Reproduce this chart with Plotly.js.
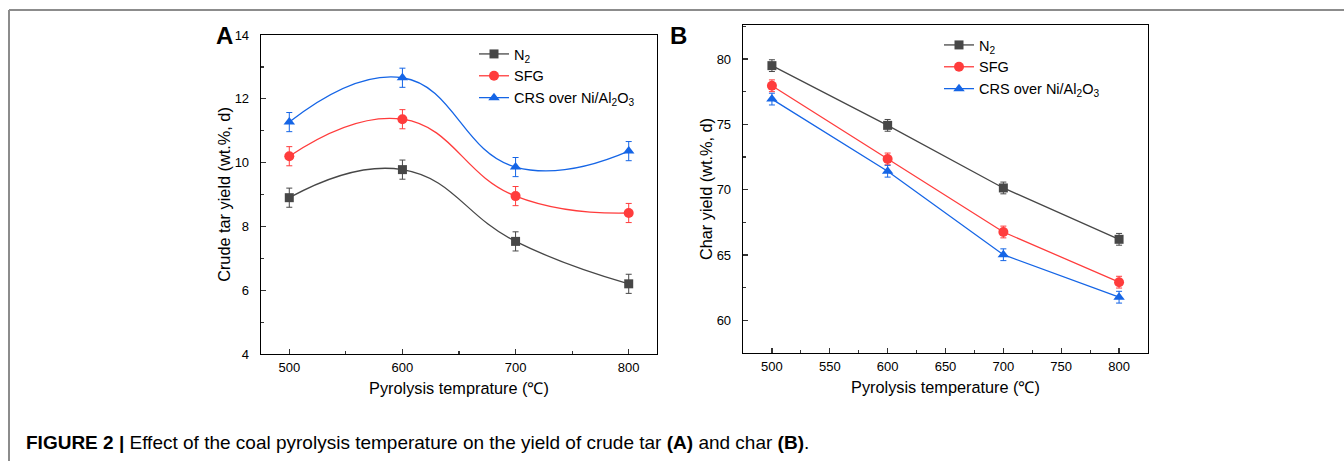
<!DOCTYPE html>
<html>
<head>
<meta charset="utf-8">
<script src="https://cdn.plot.ly/plotly-3.0.1.min.js"></script>
<style>html,body{margin:0;padding:0;background:#fff;}#chart{width:1344px;height:461px;}</style>
</head>
<body>
<div id="chart"></div>
<script>
// Temperatures (°C)
const temps = [500, 600, 700, 800];

// Panel A: crude tar yield (wt.%, d)
const tarN2  = [8.90, 9.78, 7.53, 6.20];
const tarSFG = [10.20, 11.36, 8.95, 8.42];
const tarCRS = [11.27, 12.66, 9.86, 10.36];
const tarErrN2  = [0.30, 0.30, 0.30, 0.30];
const tarErrSFG = [0.30, 0.30, 0.30, 0.30];
const tarErrCRS = [0.30, 0.30, 0.30, 0.30];

// Panel B: char yield (wt.%, d)
const charN2  = [79.49, 74.92, 70.13, 66.20];
const charSFG = [77.95, 72.35, 66.76, 62.92];
const charCRS = [76.93, 71.41, 65.02, 61.77];
const charErrN2  = [0.45, 0.45, 0.45, 0.45];
const charErrSFG = [0.45, 0.45, 0.45, 0.45];
const charErrCRS = [0.45, 0.45, 0.45, 0.45];

const seriesNames = ['N<sub>2</sub>', 'SFG', 'CRS over Ni/Al<sub>2</sub>O<sub>3</sub>'];
const colors = ['#474747', '#ff3c3c', '#1565e6'];
const symbols = ['square', 'circle', 'triangle-up'];
const sizes = [9, 10, 10];

const W = 1344, H = 461;
const px = v => v / W;
const py = v => 1 - v / H;

function mk(x, y, err, i, xa, ya, leg, shape) {
  return {
    x: x, y: y, type: 'scatter', mode: 'lines+markers',
    name: seriesNames[i], xaxis: xa, yaxis: ya, legend: leg,
    line: {color: colors[i], width: 1.3, shape: shape, smoothing: 1.3},
    marker: {color: colors[i], symbol: symbols[i], size: sizes[i]},
    error_y: {type: 'data', array: err, visible: true, color: colors[i], thickness: 1, width: 3}
  };
}

const data = [
  mk(temps, tarN2, tarErrN2, 0, 'x', 'y', 'legend', 'spline'),
  mk(temps, tarSFG, tarErrSFG, 1, 'x', 'y', 'legend', 'spline'),
  mk(temps, tarCRS, tarErrCRS, 2, 'x', 'y', 'legend', 'spline'),
  mk(temps, charN2, charErrN2, 0, 'x2', 'y2', 'legend2', 'linear'),
  mk(temps, charSFG, charErrSFG, 1, 'x2', 'y2', 'legend2', 'linear'),
  mk(temps, charCRS, charErrCRS, 2, 'x2', 'y2', 'legend2', 'linear')
];

const font = {family: 'Liberation Sans, Arial, sans-serif', color: '#000'};
const axBase = {
  showline: true, linecolor: '#000', linewidth: 1.3, mirror: true,
  ticks: 'inside', ticklen: 5, tickwidth: 1.2, tickcolor: '#333',
  showgrid: false, zeroline: false,
  tickfont: {family: font.family, size: 13, color: '#000'}
};

const layout = {
  width: W, height: H,
  margin: {l: 0, r: 0, t: 0, b: 0},
  paper_bgcolor: '#fff', plot_bgcolor: '#fff',
  font: font,
  showlegend: true,
  xaxis: Object.assign({}, axBase, {
    domain: [px(261), px(657)], range: [475, 825], dtick: 100, tick0: 500,
    ticklabelstandoff: 1,
    minor: {ticks: 'inside', ticklen: 3, dtick: 50, tick0: 500, tickcolor: '#333'},
    title: {text: 'Pyrolysis temprature (℃)', font: {size: 16.3, family: font.family}, standoff: 8}
  }),
  yaxis: Object.assign({}, axBase, {
    domain: [py(354), py(35)], range: [4, 14], dtick: 2, tick0: 4,
    ticklabelstandoff: 8,
    minor: {ticks: 'inside', ticklen: 3, dtick: 1, tick0: 4, tickcolor: '#333'},
    title: {text: 'Crude tar yield (wt.%, d)', font: {size: 16.3, family: font.family}, standoff: 0}
  }),
  xaxis2: Object.assign({}, axBase, {
    anchor: 'y2',
    domain: [px(743), px(1148)], range: [475, 825], dtick: 50, tick0: 500,
    ticklabelstandoff: 1,
    minor: {ticks: 'inside', ticklen: 3, dtick: 25, tick0: 500, tickcolor: '#333'},
    title: {text: 'Pyrolysis temperature (℃)', font: {size: 16.3, family: font.family}, standoff: 8}
  }),
  yaxis2: Object.assign({}, axBase, {
    anchor: 'x2',
    domain: [py(353), py(25)], range: [57.5, 82.6], dtick: 5, tick0: 60,
    ticklabelstandoff: 8,
    minor: {ticks: 'inside', ticklen: 3, dtick: 2.5, tick0: 60, tickcolor: '#333'},
    title: {text: 'Char yield (wt.%, d)', font: {size: 16.3, family: font.family}, standoff: 0}
  }),
  legend: {
    x: px(474), y: py(38), xanchor: 'left', yanchor: 'top',
    bgcolor: 'rgba(0,0,0,0)', font: {size: 14.5, family: font.family, color: '#000'},
    tracegroupgap: 0
  },
  legend2: {
    x: px(939), y: py(29), xanchor: 'left', yanchor: 'top',
    bgcolor: 'rgba(0,0,0,0)', font: {size: 14.5, family: font.family, color: '#000'},
    tracegroupgap: 0
  },
  shapes: [
    {type: 'line', xref: 'paper', yref: 'paper', x0: px(9), x1: 1, y0: py(10), y1: py(10), line: {color: '#8c8c8c', width: 2}},
    {type: 'line', xref: 'paper', yref: 'paper', x0: px(9), x1: px(9), y0: 0, y1: py(10), line: {color: '#8c8c8c', width: 2}}
  ],
  annotations: [
    {text: '<b>A</b>', xref: 'paper', yref: 'paper', x: px(225), y: py(36), xanchor: 'center', yanchor: 'middle', showarrow: false, font: {size: 24, family: font.family, color: '#000'}},
    {text: '<b>B</b>', xref: 'paper', yref: 'paper', x: px(678), y: py(36), xanchor: 'center', yanchor: 'middle', showarrow: false, font: {size: 24, family: font.family, color: '#000'}},
    {text: '<b>FIGURE 2 |</b> Effect of the coal pyrolysis temperature on the yield of crude tar <b>(A)</b> and char <b>(B)</b>.', xref: 'paper', yref: 'paper', x: px(24), y: py(442), xanchor: 'left', yanchor: 'middle', showarrow: false, font: {size: 19, family: font.family, color: '#000'}}
  ]
};

Plotly.newPlot('chart', data, layout, {displayModeBar: false, staticPlot: true});
</script>
</body>
</html>
